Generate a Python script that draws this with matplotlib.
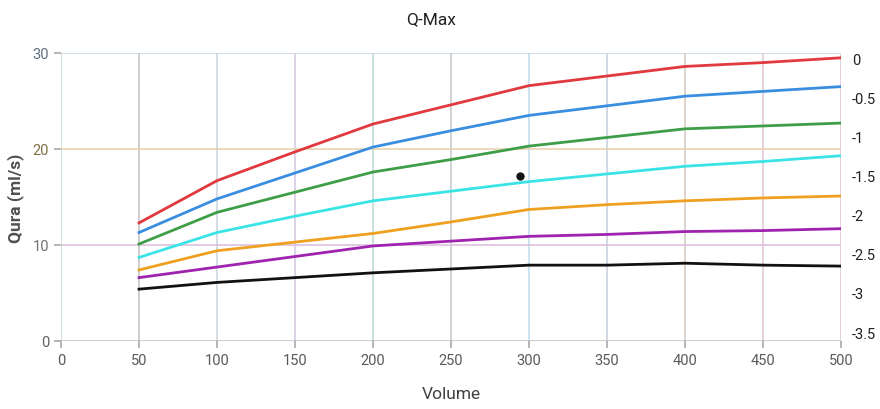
import numpy as np
import matplotlib
matplotlib.use("Agg")
import matplotlib.pyplot as plt

plt.rcParams["font.family"] = ["Roboto", "DejaVu Sans"]

## data
volume = [50, 100, 150, 200, 250, 300, 350, 400, 450, 500]
q_red = [12.3, 16.7, 19.7, 22.6, 24.6, 26.6, 27.6, 28.6, 29.0, 29.5]
q_blue = [11.3, 14.8, 17.5, 20.2, 21.9, 23.5, 24.5, 25.5, 26.0, 26.5]
q_green = [10.1, 13.4, 15.5, 17.6, 18.9, 20.3, 21.2, 22.1, 22.4, 22.7]
q_cyan = [8.7, 11.3, 13.0, 14.6, 15.6, 16.6, 17.4, 18.2, 18.7, 19.3]
q_orange = [7.4, 9.4, 10.3, 11.2, 12.4, 13.7, 14.2, 14.6, 14.9, 15.1]
q_purple = [6.6, 7.7, 8.8, 9.9, 10.4, 10.9, 11.1, 11.4, 11.5, 11.7]
q_black = [5.4, 6.1, 6.6, 7.1, 7.5, 7.9, 7.9, 8.1, 7.9, 7.8]
dot_x, dot_y = 294, 17.2

x_ticks = [0, 50, 100, 150, 200, 250, 300, 350, 400, 450, 500]
y_ticks = [0, 10, 20, 30]
right_ticks = [0, -0.5, -1, -1.5, -2, -2.5, -3, -3.5]
right_labels = ["0", "-0.5", "-1", "-1.5", "-2", "-2.5", "-3", "-3.5"]

series = [
    (q_red, "#e0393e"),
    (q_blue, "#3a8ee0"),
    (q_green, "#3e9e48"),
    (q_cyan, "#3ae4e6"),
    (q_orange, "#f0a020"),
    (q_purple, "#a023b0"),
    (q_black, "#111111"),
]

# grid colours (faded rainbow look of the original)
vgrid_col = ["#bcdcd4", "#c0c0c0", "#c8d4dc", "#d4c8e0", "#bcd8d4", "#c4c8cc",
             "#bcdcec", "#c8d0dc", "#d4c8bc", "#e0c4d4", "#dcc4d4"]
hgrid_col = ["#bcbcbc", "#dcbcdc", "#e8d0a8", "#c4d4e0"]
ytick_col = ["#606060", "#707070", "#807040", "#607080"]

fig = plt.figure(figsize=(8.8, 4.1), dpi=100)
ax = fig.add_axes([0.0693, 0.1659, 0.8864, 0.7024])

for xv, c in zip(x_ticks, vgrid_col):
    ax.axvline(xv, color=c, lw=1.1, zorder=1)
for yv, c in zip(y_ticks, hgrid_col):
    ax.axhline(yv, color=c, lw=1.1, zorder=1)

for vals, c in series:
    ax.plot(volume, vals, color=c, lw=2.0, zorder=3)
ax.plot([dot_x], [dot_y], "o", color="#111111", ms=5, zorder=4)

ax.set_xlim(0, 500)
ax.set_ylim(0, 30)
ax.set_xticks(x_ticks)
ax.set_yticks(y_ticks)
ax.tick_params(axis="both", colors="#a8a8a8", length=5, width=1.2, labelsize=10.5)
for lab in ax.get_xticklabels():
    lab.set_color("#5a5a5a")
for lab, c in zip(ax.get_yticklabels(), ytick_col):
    lab.set_color(c)
for s in ax.spines.values():
    s.set_visible(False)

fig.text(0.49, 1 - 20 / 410, "Q-Max", fontsize=12.5, color="#222222",
         ha="center", va="center")
ax.set_xlabel("Volume", fontsize=12.5, color="#404040", labelpad=14)
ax.set_ylabel("Qura (ml/s)", fontsize=12.5, color="#505050", fontweight="bold",
              labelpad=6)

ax2 = ax.twinx()
ax2.set_ylim(-3.614, 0.064)
ax2.set_yticks(right_ticks)
ax2.set_yticklabels(right_labels)
ax2.tick_params(axis="y", length=0, pad=8, labelsize=10.5, colors="#222222")
for s in ax2.spines.values():
    s.set_visible(False)

plt.savefig("out.png", dpi=100)
